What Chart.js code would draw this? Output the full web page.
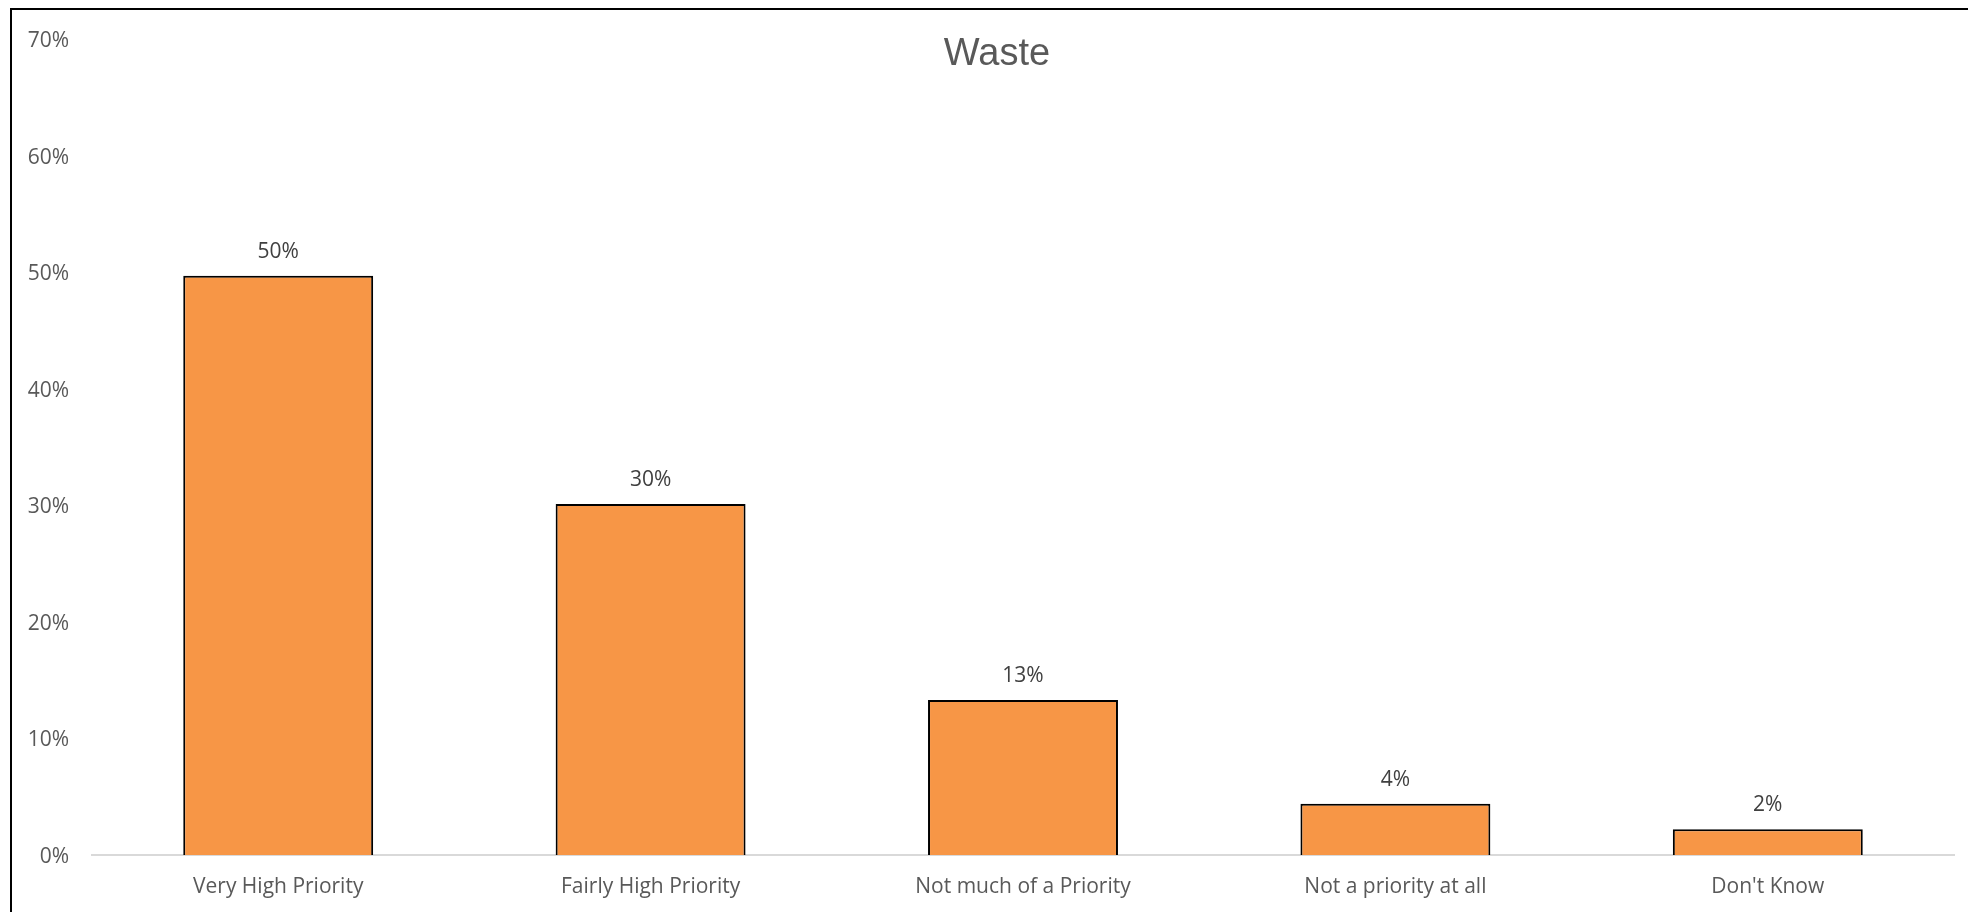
<!DOCTYPE html>
<html>
<head>
<meta charset="utf-8">
<script src="https://cdn.jsdelivr.net/npm/chart.js@4"></script>
<style>
    html, body { margin: 0; padding: 0; background: #ffffff; }
    #wrap { width: 1968px; height: 912px; position: relative; }
</style>
</head>
<body>
<div id="wrap"><canvas id="myChart"></canvas></div>
<script>
const chartTitle = "Waste";
const categories = ["Very High Priority", "Fairly High Priority", "Not much of a Priority", "Not a priority at all", "Don't Know"];
const values = [49.7, 30.1, 13.3, 4.4, 2.2];
const yTicks = [0, 10, 20, 30, 40, 50, 60, 70];

// frame lines on the left and top, and the title
const framePlugin = {
    id: "frame",
    beforeDraw: function (chart) {
        var ctx = chart.ctx;
        ctx.save();
        ctx.fillStyle = "#ffffff";
        ctx.fillRect(0, 0, chart.width, chart.height);
        ctx.strokeStyle = "#000000";
        ctx.lineWidth = 2;
        ctx.beginPath();
        ctx.moveTo(11, chart.height);
        ctx.lineTo(11, 9);
        ctx.lineTo(chart.width, 9);
        ctx.stroke();
        ctx.restore();
    },
    afterDraw: function (chart) {
        var ctx = chart.ctx;
        ctx.save();
        ctx.fillStyle = "#595959";
        ctx.font = "38px 'Liberation Sans', Arial, sans-serif";
        ctx.textAlign = "center";
        ctx.textBaseline = "middle";
        ctx.fillText(chartTitle, 997, 55);
        ctx.restore();
    },
};

// value labels above the bars
const barLabels = {
    id: "barLabels",
    afterDatasetsDraw: function (chart) {
        var ctx = chart.ctx;
        var meta = chart.getDatasetMeta(0);
        ctx.save();
        ctx.fillStyle = "#404040";
        ctx.font = "21px 'Open Sans', sans-serif";
        ctx.textAlign = "center";
        ctx.textBaseline = "middle";
        for (var i = 0; i < meta.data.length; i++) {
            var bar = meta.data[i];
            ctx.fillText(Math.round(values[i]) + "%", bar.x, bar.y - 24);
        }
        ctx.restore();
    },
};

new Chart(document.getElementById("myChart"), {
    type: "bar",
    data: {
        labels: categories,
        datasets: [
            {
                data: values,
                backgroundColor: "#f79646",
                borderColor: "#000000",
                borderWidth: 2,
                categoryPercentage: 1,
                barPercentage: 0.51,
            },
        ],
    },
    options: {
        responsive: true,
        maintainAspectRatio: false,
        animation: false,
        layout: {
            padding: { top: 39, right: 14, bottom: 0, left: 0 },
        },
        plugins: {
            legend: { display: false },
            tooltip: { enabled: false },
            title: { display: false },
        },
        scales: {
            x: {
                grid: { display: false, drawTicks: false },
                border: { display: true, color: "#d9d9d9", width: 2 },
                ticks: {
                    color: "#595959",
                    font: { family: "'Open Sans', sans-serif", size: 21 },
                    padding: 19,
                    maxRotation: 0,
                },
                afterFit: function (scale) {
                    scale.height = 57;
                },
            },
            y: {
                min: 0,
                max: 70,
                afterBuildTicks: function (scale) {
                    scale.ticks = yTicks.map(function (v) {
                        return { value: v };
                    });
                },
                grid: { display: false, drawTicks: false },
                border: { display: false },
                ticks: {
                    color: "#595959",
                    font: { family: "'Open Sans', sans-serif", size: 21 },
                    padding: 23,
                    labelOffset: 2,
                    callback: function (v) {
                        return v + "%";
                    },
                },
                afterFit: function (scale) {
                    scale.width = 92;
                },
            },
        },
    },
    plugins: [framePlugin, barLabels],
});
</script>
</body>
</html>
